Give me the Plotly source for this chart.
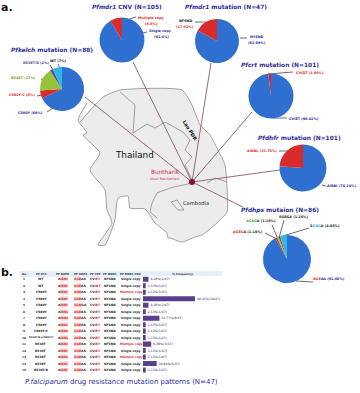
import plotly.graph_objects as go

W, H = 360, 393
BLUE, RED, GREEN, CYAN, PURPLE = "#2f6fd0", "#d92b2b", "#98c23c", "#2fb6e8", "#5b3f8f"
NAVY = "#2c2c9c"
FONT = "DejaVu Sans"

# ---- pie data ----
kelch_labels = ["C580Y", "C580Y/C", "R539T", "R539T/R", "WT"]
kelch_values = [68, 6, 17, 2, 7]
kelch_colors = [BLUE, RED, GREEN, PURPLE, CYAN]
cnv_labels = ["Single copy", "Multiple copy"]
cnv_values = [91.4, 8.6]
mdr1_labels = ["NYSND", "NFSND"]
mdr1_values = [82.98, 17.02]
crt_labels = ["CVIET", "CVIDT"]
crt_values = [98.02, 1.98]
dhfr_labels = ["AIRNI", "AIRNL"]
dhfr_values = [76.24, 23.76]
dhps_labels = ["AGEAA", "AGEGA", "AGKGA", "SGEGA", "SGNGA"]
dhps_values = [91.86, 1.16, 1.16, 1.16, 4.65]
dhps_colors = [BLUE, RED, GREEN, "#7a5a3a", CYAN]

pies = [
    (kelch_labels, kelch_values, kelch_colors, 62, 89, 22),
    (cnv_labels, cnv_values, [BLUE, RED], 122, 40, 22.5),
    (mdr1_labels, mdr1_values, [BLUE, RED], 217, 41, 22),
    (crt_labels, crt_values, [BLUE, RED], 271, 96, 22.5),
    (dhfr_labels, dhfr_values, [BLUE, RED], 303, 168, 23.5),
    (dhps_labels, dhps_values, dhps_colors, 287, 259, 24),
]

# ---- map outlines (image space) ----
land_x = [87,78,87,83,100,90,105,107,112,98,105,115,118,128,130,145,155,167,168,170,182,195,202,217,227,227,225,217,210,200,192,182,120,103,80]
land_y = [103,120,133,135,153,170,190,210,223,245,245,220,198,196,208,209,223,233,238,238,242,237,235,223,212,187,165,148,135,125,105,90,90,97,122]
border_1_x = [120,135,133,147,155,165,183,190,185,192,185,192]
border_1_y = [92,105,133,124,128,122,132,140,150,157,165,180]
border_2_x = [192,170,157,152,150,157]
border_2_y = [183,188,193,203,212,218]
border_3_x = [207,215,227]
border_3_y = [183,178,182]
lake_x = [171,177,184,178,171]
lake_y = [202,200,210,210,202]

# ---- lines from pies to the study site ----
SITE = (192, 182)
link_x = [85, 133, 211, 252, 280, 243]
link_y = [97, 62, 63, 112, 170, 207]

# ---- pie label text ----
def c(txt, col):
    return f'<span style="color:{col}">{txt}</span>'

titles = [
    ("<i>Pfkelch</i> mutation (N=88)", 52, 50),
    ("<i>Pfmdr1</i> CNV (N=105)", 127, 7),
    ("<i>Pfmdr1</i> mutation (N=47)", 226, 7),
    ("<i>Pfcrt</i> mutation (N=101)", 280, 65),
    ("<i>Pfdhfr</i> mutation (N=101)", 299, 138),
    ("<i>Pfdhps</i> mutaion (N=86)", 280, 210),
]
slice_labels = [
    ("WT (7%)", "#222222", 58, 61),
    ("R539T/R (2%)", "#4b3a8f", 36, 63),
    ("R539T (17%)", "#6fa02a", 23, 78),
    ("C580Y/C (6%)", RED, 22, 95),
    ("C580Y (68%)", "#2a2aa0", 30, 113),
    ("Multiple copy", RED, 151, 18),
    ("(8.6%)", RED, 151, 24),
    ("Single copy", "#2a2aa0", 160, 31),
    ("(91.4%)", "#2a2aa0", 161, 37),
    ("NFSND", "#222222", 185, 21),
    ("(17.02%)", RED, 185, 27),
    ("NYSND", "#2a2aa0", 257, 37),
    ("(82.98%)", "#2a2aa0", 257, 43),
    ("CV" + c("IDT", RED) + c(" (1.98%)", RED), RED, 310, 73),
    ("CV" + c("IET", "#2a2aa0") + " (98.02%)", "#2a2aa0", 304, 119),
    ("A" + c("IRNL", RED) + " (23.76%)", RED, 262, 151),
    ("AIRNI (76.24%)", "#2a2aa0", 341, 186),
    (c("AGEG", RED) + "A (1.16%)", "#222222", 248, 232),
    (c("AGKG", "#3fa83f") + "A (1.16%)", "#222222", 261, 221),
    ("SGEGA (1.16%)", "#222222", 293, 217),
    ("S" + c("GNG", "#2fb6e8") + "A (4.65%)", "#222222", 325, 226),
    (c("AGE", RED) + "AA (91.86%)", "#2a2aa0", 329, 279),
]
tick_x0 = [58,50,41,37,47,127,143,195,240,268,273,279,322,265,272,284,309,313]
tick_y0 = [64,65,79,96,112,20,33,22,38,74,118,151,185,233,225,220,228,282]
tick_x1 = [60,53,44,42,53,136,147,205,247,293,287,290,326,277,278,279,283,296]
tick_y1 = [68,70,80,95,108,17,32,22,38,72,118,151,186,239,239,238,236,281]

# ---- table b ----
headers = ["No.", "PF K13", "PF DHFR", "PF DHPS", "PF CRT", "PF MDR1", "PF MDR1 CNV"]
header_x = [24, 41, 63, 80, 95, 110, 131]
row_no = list(range(1, 16))
k13 = ["WT","WT","C580Y","C580Y","C580Y","C580Y","C580Y","C580Y","C580Y/C","R539T/R+C580Y/C","R539T","R539T","R539T","R539T","R539T/R"]
dhfr = ["AIRNI","AIRNI","AIRNI","AIRNI","AIRNI","AIRNL","AIRNL","AIRNI","AIRNL","AIRNL","AIRNI","AIRNI","AIRNI","AIRNI","AIRNI"]
dhps = ["AGEAA","AGEAA","AGEAA","AGEAA","SGNGA","AGEAA","AGEAA","AGEGA","AGEAA","AGEAA","AGEAA","AGEAA","AGEAA","AGEAA","AGEAA"]
crt = ["CVIET","CVIDT","CVIET","CVIET","CVIET","CVIET","CVIET","CVIET","CVIET","CVIET","CVIET","CVIET","CVIET","CVIET","CVIET"]
mdr = ["NYSND","NFSND","NYSND","NYSND","NFSND","NYSND","NYSND","NFSND","NYSND","NYSND","NFSND","NFSND","NYSND","NYSND","NYSND"]
cnv = ["Single copy","Single copy","Multiple copy","Single copy","Single copy","Single copy","Single copy","Single copy","Single copy","Single copy","Multiple copy","Single copy","Multiple copy","Single copy","Single copy"]
freq = [4.26,2.13,2.13,40.43,4.26,2.13,12.77,2.13,2.13,2.13,6.38,2.13,2.13,10.64,2.13]
freq_text = ["4.26%(2/47)","2.13%(1/47)","2.13%(1/47)","40.43%(19/47)","4.26%(2/47)","2.13%(1/47)","12.77%(6/47)","2.13%(1/47)","2.13%(1/47)","2.13%(1/47)","6.38%(3/47)","2.13%(1/47)","2.13%(1/47)","10.64%(5/47)","2.13%(1/47)"]

ROW0, ROW_STEP = 279.3, 6.48

fig = go.Figure()

# map
MAPLINE = "#8a8a8a"
fig.add_trace(go.Scatter(x=land_x, y=land_y, mode="lines", fill="toself", fillcolor="#ececec",
                         line=dict(color=MAPLINE, width=0.8, shape="spline", smoothing=0.5), hoverinfo="skip"))
for bx, by in [(border_1_x, border_1_y), (border_2_x, border_2_y), (border_3_x, border_3_y), (lake_x, lake_y)]:
    fig.add_trace(go.Scatter(x=bx, y=by, mode="lines", line=dict(color=MAPLINE, width=0.8), hoverinfo="skip"))

# links
for lx, ly in zip(link_x, link_y):
    fig.add_trace(go.Scatter(x=[lx, SITE[0]], y=[ly, SITE[1]], mode="lines",
                             line=dict(color="#8c5a66", width=0.9), hoverinfo="skip"))
# label ticks
for a, b, d, e in zip(tick_x0, tick_y0, tick_x1, tick_y1):
    fig.add_trace(go.Scatter(x=[a, d], y=[b, e], mode="lines",
                             line=dict(color="#444444", width=0.8), hoverinfo="skip"))
fig.add_trace(go.Scatter(x=[SITE[0]], y=[SITE[1]], mode="markers",
                         marker=dict(color="#8a0f3c", size=6), hoverinfo="skip"))

# pies
for labels, values, colors, cx, cy, r in pies:
    fig.add_trace(go.Pie(labels=labels, values=values, sort=False, direction="clockwise",
                         marker=dict(colors=colors, line=dict(width=0)), textinfo="none",
                         hoverinfo="label+percent",
                         domain=dict(x=[(cx - r) / W, (cx + r) / W],
                                     y=[1 - (cy + r) / H, 1 - (cy - r) / H])))

# frequency bars
fig.add_trace(go.Bar(x=freq, y=row_no, orientation="h", xaxis="x2", yaxis="y2", width=0.78,
                     marker=dict(color=PURPLE, line=dict(width=0)),
                     text=["\u00a0\u00a0" + t for t in freq_text],
                     textposition="outside", cliponaxis=False,
                     textfont=dict(size=3.1, color="#222255", family=FONT), hoverinfo="skip"))

ann = []
def text(t, x, y, size, color="#222222", **kw):
    ann.append(dict(text=t, x=x, y=y, xref="x", yref="y", showarrow=False, xanchor=kw.pop("xanchor", "center"),
                    yanchor="middle", font=dict(size=size, color=color, family=FONT), **kw))

text("<b>a.</b>", 7, 7, 11, "#111111")
text("<b>b.</b>", 7, 272, 11, "#111111")
for t, x, y in titles:
    text(f"<b>{t}</b>", x, y, 5.9, NAVY)
for t, col, x, y in slice_labels:
    text(f"<b>{t}</b>", x, y, 3.4, col)
text("Thailand", 134, 155, 8.8, "#111111")
text("Buntharik", 165, 172, 5.8, "#c8284a")
text("Ubon Ratchathani", 165, 179, 3.3, "#c8284a")
text("Cambodia", 196, 203, 5.2, "#222222")
text("<b>Lao PDR</b>", 190, 130, 4.8, "#111111", textangle=58)

# table text
shapes = [dict(type="rect", xref="x", yref="y", x0=20, x1=222, y0=271, y1=277,
               fillcolor="#e4effa", line_width=0, layer="below")]
for t, x in zip(headers, header_x):
    text(f"<b>{t}</b>", x, 273.7, 2.7, "#333333")
text("<b>% Frequency</b>", 182, 273.7, 2.9, "#333333")

for i, n in enumerate(row_no):
    y = ROW0 + i * ROW_STEP
    text(f"<b>{n}</b>", header_x[0], y, 2.9)
    text(f"<b>{k13[i]}</b>", header_x[1], y, 2.4 if len(k13[i]) > 10 else 3.0)
    text(f"<b>{c(dhfr[i][0], '#222222') + c(dhfr[i][1:], RED)}</b>", header_x[2], y, 3.1)
    text(f"<b>{c(dhps[i][:3], RED) + c(dhps[i][3:], '#222222')}</b>", header_x[3], y, 3.1)
    text(f"<b>{c(crt[i][:2], '#222222') + c(crt[i][2:], RED)}</b>", header_x[4], y, 3.1)
    text(f"<b>{mdr[i]}</b>", header_x[5], y, 3.0)
    text(f"<b>{cnv[i]}</b>", header_x[6], y, 3.0, RED if cnv[i].startswith("Multiple") else "#222222")
    shapes.append(dict(type="rect", xref="x", yref="y", x0=header_x[2] - 3, x1=header_x[2] + 5, y0=y - 2.3, y1=y + 2.3,
                       fillcolor="#fbdcdc", line_width=0, layer="below"))
    shapes.append(dict(type="rect", xref="x", yref="y", x0=header_x[3] - 6, x1=header_x[3] + 1, y0=y - 2.3, y1=y + 2.3,
                       fillcolor="#fbdcdc", line_width=0, layer="below"))

text("<i>P.falciparum</i> drug resistance mutation patterns (N=47)", 121, 382, 7.0, NAVY)

fig.update_layout(
    width=W, height=H, margin=dict(l=0, r=0, t=0, b=0),
    paper_bgcolor="white", plot_bgcolor="white", showlegend=False,
    xaxis=dict(range=[0, W], visible=False, domain=[0, 1]),
    yaxis=dict(range=[H, 0], visible=False, domain=[0, 1]),
    xaxis2=dict(range=[0, 100], visible=False, domain=[143 / W, (143 + 128.6) / W], anchor="y2"),
    yaxis2=dict(range=[15.5, 0.5], visible=False, anchor="x2",
                domain=[1 - (ROW0 + 14.5 * ROW_STEP) / H, 1 - (ROW0 - 0.5 * ROW_STEP) / H]),
    annotations=ann, shapes=shapes,
)
fig.write_html("out.html", config=dict(displayModeBar=False),
               post_script="document.body.style.margin='0';document.documentElement.style.overflow='hidden';")
